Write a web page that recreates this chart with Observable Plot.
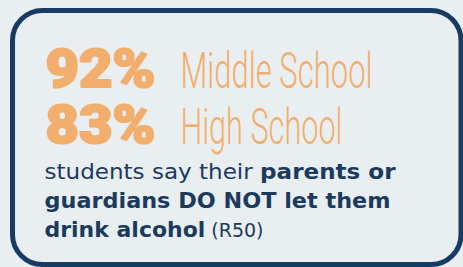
<!DOCTYPE html>
<html><head><meta charset="utf-8">
<script src="https://cdn.jsdelivr.net/npm/d3@7"></script>
<script src="https://cdn.jsdelivr.net/npm/@observablehq/plot@0.6"></script>
<style>html,body{margin:0;padding:0;background:#e9eef1;} #chart{width:463px;height:267px;overflow:hidden}</style>
</head><body><div id="chart"></div>
<script>
// ---- data ----
const percents = [92, 83];
const schools = ["Middle School", "High School"];
const bodyText = ["students say their parents or", "guardians DO NOT let them", "drink alcohol (R50)"];
const bodySegments = [
  [["students say their ", "regular"], ["parents or", "bold"]],
  [["guardians DO NOT let them", "bold"]],
  [["drink alcohol", "bold"], [" (R50)", "small"]]
];

// ---- style / layout ----
const W = 463, H = 267;
const NAVY = "#173b62", TEXT = "#1b3a5e", ORANGE = "#f2ae6d", BG = "#e9eef1";
const headX = 44, labelX = 180, headBase = 87, headGap = 56;
const bodyX = 44, bodyBase = 178, bodyGap = 29.3;
const numWidth = 110, labelWidths = [192, 162], bodyWidths = [351, 346, 219];

const rows = percents.map((p, i) => ({p, school: schools[i], i}));
const body = bodyText.map((t, i) => ({t, i}));

const svg = Plot.plot({
  width: W, height: H, margin: 0,
  x: {domain: [0, W], range: [0, W], axis: null},
  y: {domain: [0, H], range: [0, H], axis: null},
  style: {background: BG},
  marks: [
    Plot.frame({stroke: NAVY, strokeWidth: 5, rx: 30, fill: "none",
      insetLeft: 12, insetTop: 10, insetRight: 2.5, insetBottom: 3}),
    Plot.text(rows, {x: () => headX + 1, y: d => headBase + d.i * headGap - 1, text: d => `${d.p}%`,
      textAnchor: "start", lineAnchor: "bottom", fontSize: 54, fontWeight: 900,
      fontFamily: "Roboto", fill: ORANGE, stroke: ORANGE, strokeWidth: 2.2, strokeLinejoin: "round"}),
    Plot.text(rows, {x: () => labelX, y: d => headBase + d.i * headGap, text: "school",
      textAnchor: "start", lineAnchor: "bottom", fontSize: 50, fontWeight: 300,
      fontFamily: "Roboto", fill: ORANGE}),
    Plot.text(body, {x: () => bodyX, y: d => bodyBase + d.i * bodyGap, text: "t",
      textAnchor: "start", lineAnchor: "bottom", fontSize: 22,
      fontFamily: "DejaVu Sans", fill: TEXT})
  ]
});

const s = d3.select(svg);
const groups = s.selectAll('g[aria-label="text"]').nodes();
const [gPct, gSchool, gBody] = groups;
d3.select(gPct).selectAll("text")
  .attr("textLength", numWidth).attr("lengthAdjust", "spacingAndGlyphs");
d3.select(gSchool).selectAll("text")
  .each(function(_, k) {
    d3.select(this).attr("textLength", labelWidths[k]).attr("lengthAdjust", "spacingAndGlyphs");
  });
d3.select(gBody).selectAll("text")
  .each(function(_, k) {
    const t = d3.select(this);
    t.text(null);
    for (const [str, kind] of bodySegments[k]) {
      const ts = t.append("tspan").text(str);
      if (kind === "bold") ts.attr("font-weight", "bold");
      if (kind === "small") ts.attr("font-size", 19);
    }
    t.attr("textLength", bodyWidths[k]).attr("lengthAdjust", "spacingAndGlyphs")
     .style("white-space", "pre");
  });

document.getElementById("chart").appendChild(svg);
</script>
</body></html>
